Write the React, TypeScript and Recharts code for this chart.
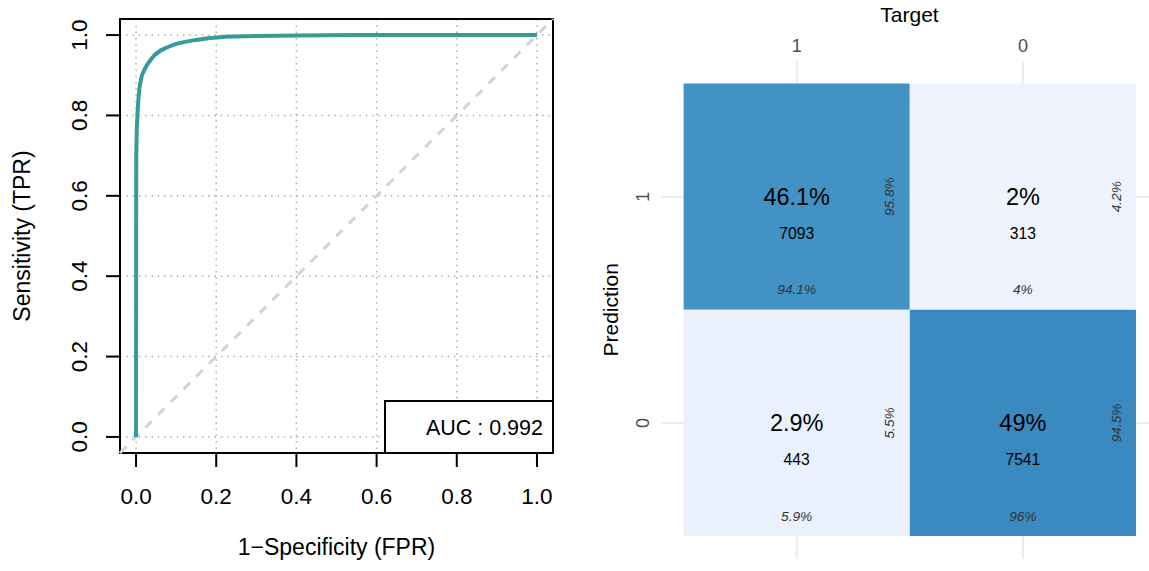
import React from 'react';
import {
  LineChart,
  Line,
  XAxis,
  YAxis,
  CartesianGrid,
  ReferenceArea,
  ReferenceLine,
  Label,
  ScatterChart,
  Scatter,
} from 'recharts';

const FONT = '"Liberation Sans", Arial, Helvetica, sans-serif';

// ---------- ROC data ----------
const rocFpr = [0, 0.0005, 0.002, 0.004, 0.006, 0.009, 0.014, 0.02, 0.027, 0.036, 0.047, 0.062, 0.081, 0.1, 0.122, 0.15, 0.18, 0.222, 0.3, 0.4, 0.55, 0.7, 0.85, 1.0];
const rocTpr = [0, 0.7, 0.77, 0.81, 0.842, 0.872, 0.898, 0.912, 0.925, 0.938, 0.951, 0.962, 0.971, 0.978, 0.983, 0.988, 0.992, 0.996, 0.998, 0.999, 1.0, 1.0, 1.0, 1.0];
const rocTicks = [0, 0.2, 0.4, 0.6, 0.8, 1.0];
const aucValue = 0.992;
const rocXLabel = '1\u2212Specificity (FPR)';
const rocYLabel = 'Sensitivity (TPR)';

// ---------- Confusion matrix data ----------
const targetLevels = ['1', '0'];
const predictionLevels = ['1', '0'];
const targetTitle = 'Target';
const predictionTitle = 'Prediction';
// rows = prediction, columns = target
const cellCounts = [
  [7093, 313],
  [443, 7541],
];
const cellPercents = [
  ['46.1%', '2%'],
  ['2.9%', '49%'],
];
const columnPercents = [
  ['94.1%', '4%'],
  ['5.9%', '96%'],
];
const rowPercents = [
  ['95.8%', '4.2%'],
  ['5.5%', '94.5%'],
];
const tileFills = [
  ['#4292c6', '#eef3fe'],
  ['#eaf1fc', '#3a89c1'],
];

const rocData = rocFpr.map((f, i) => ({ fpr: f, tpr: rocTpr[i] }));

const cells = predictionLevels.flatMap((p, r) =>
  targetLevels.map((t, c) => ({
    x: c + 1,
    y: r + 1,
    count: cellCounts[r][c],
    pct: cellPercents[r][c],
    colPct: columnPercents[r][c],
    rowPct: rowPercents[r][c],
    fill: tileFills[r][c],
  }))
);
const cmTicks = [1, 2];

const COUNT_OFFSET = 0.16;
const COLPCT_OFFSET = 0.41;
const ROWPCT_OFFSET = 0.41;

const pctData = cells.map((d) => ({ x: d.x, y: d.y, label: d.pct }));
const countData = cells.map((d) => ({ x: d.x, y: d.y + COUNT_OFFSET, label: String(d.count) }));
const colPctData = cells.map((d) => ({ x: d.x, y: d.y + COLPCT_OFFSET, label: d.colPct }));
const rowPctData = cells.map((d) => ({ x: d.x + ROWPCT_OFFSET, y: d.y, label: d.rowPct }));

// ---------- ROC ticks / labels ----------
const RocXTick = (props: any) => {
  const { x, y, payload } = props;
  return (
    <text x={x} y={y} textAnchor="middle" fontSize={22.5} fontFamily={FONT} fill="#000">
      {Number(payload.value).toFixed(1)}
    </text>
  );
};

const RocYTick = (props: any) => {
  const { x, y, payload } = props;
  return (
    <text
      x={x}
      y={y}
      transform={`rotate(-90 ${x} ${y})`}
      textAnchor="middle"
      fontSize={22.5}
      fontFamily={FONT}
      fill="#000"
    >
      {Number(payload.value).toFixed(1)}
    </text>
  );
};

const RocXLabel = (props: any) => {
  const vb = props.viewBox || {};
  const cx = vb.x + vb.width / 2;
  return (
    <text x={cx} y={555} textAnchor="middle" fontSize={23} fontFamily={FONT} fill="#000">
      {rocXLabel}
    </text>
  );
};

const RocYLabel = (props: any) => {
  const vb = props.viewBox || {};
  const cy = vb.y + vb.height / 2;
  const bx = 29.5;
  return (
    <text
      x={bx}
      y={cy}
      transform={`rotate(-90 ${bx} ${cy})`}
      textAnchor="middle"
      fontSize={23}
      fontFamily={FONT}
      fill="#000"
    >
      {rocYLabel}
    </text>
  );
};

const AucLabel = (props: any) => {
  const vb = props.viewBox || {};
  const right = vb.x + vb.width - 10;
  const cy = vb.y + vb.height / 2;
  return (
    <text x={right} y={cy} dy="0.36em" textAnchor="end" fontSize={21.5} fontFamily={FONT} fill="#000">
      {`AUC : ${aucValue}`}
    </text>
  );
};

// ---------- CM ticks / labels (chart-local coordinates) ----------
const CmTopTick = (props: any) => {
  const { x, y, payload } = props;
  return (
    <text x={x} y={y - 9} textAnchor="middle" fontSize={18} fontFamily={FONT} fill="#4d4d4d">
      {targetLevels[payload.value - 1]}
    </text>
  );
};

const CmLeftTick = (props: any) => {
  const { x, y, payload } = props;
  const tx = x - 18;
  return (
    <text
      x={tx}
      y={y}
      dy="0.36em"
      transform={`rotate(-90 ${tx} ${y})`}
      textAnchor="middle"
      fontSize={18}
      fontFamily={FONT}
      fill="#4d4d4d"
    >
      {predictionLevels[payload.value - 1]}
    </text>
  );
};

const TargetLabel = () => (
  <text x={349.5} y={21.5} textAnchor="middle" fontSize={21} fontFamily={FONT} fill="#000">
    {targetTitle}
  </text>
);

const PredictionLabel = () => {
  const cy = 309.8;
  const cx = 50;
  return (
    <text
      x={cx}
      y={cy}
      dy="0.36em"
      transform={`rotate(-90 ${cx} ${cy})`}
      textAnchor="middle"
      fontSize={21}
      fontFamily={FONT}
      fill="#000"
    >
      {predictionTitle}
    </text>
  );
};

const PctShape = (props: any) => (
  <text x={props.cx} y={props.cy} dy="0.36em" textAnchor="middle" fontSize={23.5} fontFamily={FONT} fill="#000">
    {props.payload.label}
  </text>
);

const CountShape = (props: any) => (
  <text x={props.cx} y={props.cy} dy="0.36em" textAnchor="middle" fontSize={15.7} fontFamily={FONT} fill="#000">
    {props.payload.label}
  </text>
);

const ColPctShape = (props: any) => (
  <text
    x={props.cx}
    y={props.cy}
    dy="0.36em"
    textAnchor="middle"
    fontSize={13.7}
    fontStyle="italic"
    fontFamily={FONT}
    fill="#333"
  >
    {props.payload.label}
  </text>
);

const RowPctShape = (props: any) => (
  <text
    x={props.cx}
    y={props.cy}
    dy="0.36em"
    transform={`rotate(-90 ${props.cx} ${props.cy})`}
    textAnchor="middle"
    fontSize={13.7}
    fontStyle="italic"
    fontFamily={FONT}
    fill="#333"
  >
    {props.payload.label}
  </text>
);

export default function App() {
  return (
    <div
      style={{
        position: 'absolute',
        left: 0,
        top: 0,
        width: 1149,
        height: 571,
        overflow: 'hidden',
        background: '#fff',
        fontFamily: FONT,
      }}
    >
      {/* ROC curve */}
      <div style={{ position: 'absolute', left: 0, top: 0 }}>
        <LineChart width={580} height={571} data={rocData} margin={{ top: 19, right: 27, bottom: 18, left: 20 }}>
          <CartesianGrid
            stroke="#adadad"
            strokeWidth={1.5}
            strokeDasharray="1.5 4.8"
            horizontalValues={rocTicks}
            verticalValues={rocTicks}
          />
          <XAxis
            type="number"
            dataKey="fpr"
            domain={[-0.04, 1.04]}
            ticks={rocTicks}
            height={100}
            axisLine={false}
            tickSize={14}
            tickMargin={37}
            tickLine={{ stroke: '#000', strokeWidth: 2 }}
            tick={<RocXTick />}
            allowDataOverflow
          >
            <Label content={<RocXLabel />} />
          </XAxis>
          <YAxis
            type="number"
            domain={[-0.04, 1.04]}
            ticks={rocTicks}
            width={100}
            axisLine={false}
            tickSize={14}
            tickMargin={19}
            tickLine={{ stroke: '#000', strokeWidth: 2 }}
            tick={<RocYTick />}
            allowDataOverflow
          >
            <Label content={<RocYLabel />} />
          </YAxis>
          <ReferenceLine
            segment={[
              { x: -0.04, y: -0.04 },
              { x: 1.04, y: 1.04 },
            ]}
            stroke="#d3d3d3"
            strokeWidth={3}
            strokeDasharray="9 9"
            ifOverflow="visible"
          />
          <Line
            dataKey="tpr"
            type="linear"
            stroke="#389b98"
            strokeWidth={4}
            dot={false}
            activeDot={false}
            isAnimationActive={false}
          />
          <ReferenceArea
            x1={0.621}
            x2={1.04}
            y1={-0.04}
            y2={0.0896}
            fill="#fff"
            fillOpacity={1}
            stroke="#000"
            strokeWidth={2}
            ifOverflow="visible"
          >
            <Label content={<AucLabel />} />
          </ReferenceArea>
          <ReferenceArea
            x1={-0.04}
            x2={1.04}
            y1={-0.04}
            y2={1.04}
            fill="none"
            fillOpacity={0}
            stroke="#000"
            strokeWidth={2}
            ifOverflow="visible"
          />
        </LineChart>
      </div>

      {/* Confusion matrix */}
      <div style={{ position: 'absolute', left: 560, top: 0 }}>
        <ScatterChart width={589} height={571} margin={{ top: 0, right: 0, bottom: 12.4, left: 41 }}>
          <CartesianGrid
            stroke="#ebebeb"
            strokeWidth={2}
            horizontalValues={cmTicks}
            verticalValues={cmTicks}
          />
          <XAxis
            type="number"
            dataKey="x"
            orientation="top"
            domain={[0.4, 2.5576]}
            ticks={cmTicks}
            height={61}
            axisLine={false}
            tickLine={false}
            tickSize={0}
            tickMargin={0}
            tick={<CmTopTick />}
            allowDataOverflow
          >
            <Label content={<TargetLabel />} />
          </XAxis>
          <YAxis
            type="number"
            dataKey="y"
            domain={[0.4, 2.6]}
            reversed
            ticks={cmTicks}
            width={60}
            axisLine={false}
            tickLine={false}
            tickSize={0}
            tickMargin={0}
            tick={<CmLeftTick />}
            allowDataOverflow
          >
            <Label content={<PredictionLabel />} />
          </YAxis>
          {cells.map((d, i) => (
            <ReferenceArea
              key={i}
              x1={d.x - 0.5}
              x2={d.x + 0.5}
              y1={d.y - 0.5}
              y2={d.y + 0.5}
              fill={d.fill}
              fillOpacity={1}
              stroke="none"
              ifOverflow="visible"
            />
          ))}
          <Scatter data={pctData} shape={<PctShape />} isAnimationActive={false} />
          <Scatter data={countData} shape={<CountShape />} isAnimationActive={false} />
          <Scatter data={colPctData} shape={<ColPctShape />} isAnimationActive={false} />
          <Scatter data={rowPctData} shape={<RowPctShape />} isAnimationActive={false} />
        </ScatterChart>
      </div>
    </div>
  );
}
